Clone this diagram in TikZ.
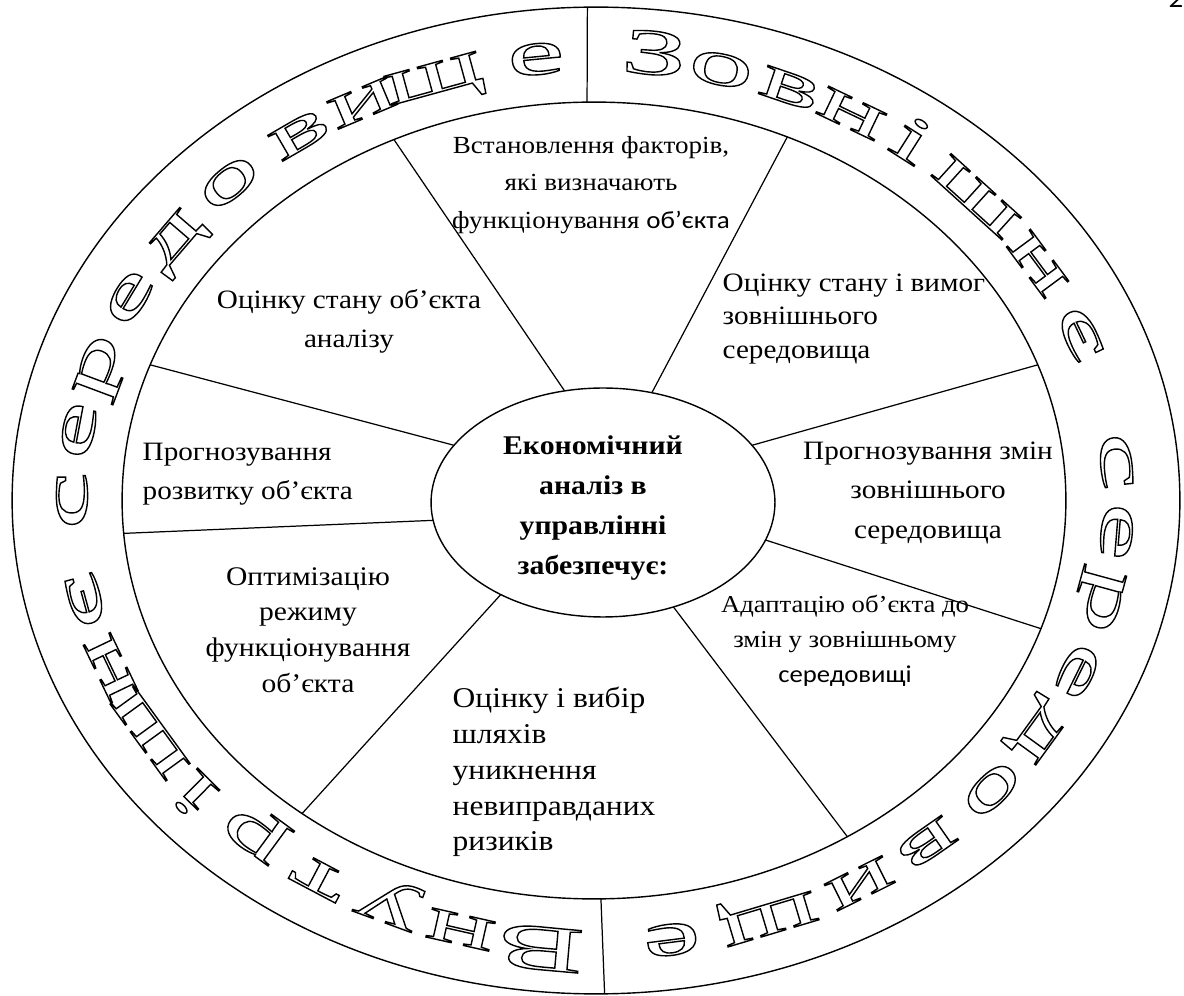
\documentclass[tikz,border=0pt]{standalone}
\usepackage{fontspec}
\setmainfont{Liberation Serif}[FakeStretch=1.1]
\newfontfamily\calibri{Carlito}[FakeStretch=1.1]
\newfontfamily\ringfont{Liberation Serif}[FakeStretch=2.0]
\usetikzlibrary{shapes.geometric}
% outlined (stroked, unfilled) glyphs via PDF text rendering mode 1
\newcommand\hollow[1]{\special{pdf:literal direct 1 Tr 0.8 w}#1\special{pdf:literal direct 0 Tr}}
\begin{document}
\begin{tikzpicture}[x=0.02cm, y=-0.02cm, line width=0.8pt,
  ring/.style={draw, ellipse, inner sep=0pt, outer sep=0pt},
  spoke/.style={line width=0.7pt},
  txt/.style={inner sep=0pt},
  ringletter/.style={font=\ringfont\fontsize{37}{40}\selectfont, inner sep=0pt, anchor=base}]
\path[fill=white, use as bounding box] (0,0) rectangle (1184,996);

% rings
\node[ring, minimum width=23.36cm, minimum height=19.74cm] (outer) at (596,500.5) {};
\node[ring, minimum width=18.88cm, minimum height=15.94cm] (inner) at (594,500.5) {};
\node[ring, minimum width=6.88cm, minimum height=4.58cm] (core) at (603,502.5) {};
\node[txt, align=center, font=\bfseries\fontsize{15.4}{22.7}\selectfont] (coretext) at (593,508)
      {Економічний\\аналіз в\\управлінні\\забезпечує:};

% ring dividers
\draw[spoke] (outer.91.4) -- (inner.91.44);
\draw[spoke] (inner.271.87) -- (outer.271.28);

% spokes
\draw[spoke] (core.109.3) -- (inner.119.5);
\draw[spoke] (core.66.9) -- (inner.62.6);
\draw[spoke] (core.21.5) -- (inner.17);
\draw[spoke] (core.347.2) -- (inner.344.6);
\draw[spoke] (core.304.7) -- (inner.307);
\draw[spoke] (core.222.5) -- (inner.227);
\draw[spoke] (core.186.1) -- (inner.184.9);
\draw[spoke] (core.159.2) -- (inner.163.6);

% ring lettering
\foreach \ch/\t [count=\i] in {З/83.5, о/76, в/68, н/60.5, і/53, ш/43, н/32, є/22,
    с/5, е/-4, р/-13, е/-22.5, д/-31.5, о/-40.5, в/-50.5, и/-59.5, щ/-70.5, е/-81.5} {
  \pgfmathsetmacro\px{595+508*cos(\t)}
  \pgfmathsetmacro\py{500.5-429*sin(\t)}
  \pgfmathsetmacro\rot{atan2(508*sin(\t),429*cos(\t))-90}
  \node[ringletter, rotate=\rot] (zr\i) at (\px,\py) {\hollow{\ch}};
}
\foreach \ch/\t [count=\i] in {В/-96, н/-105, у/-113.5, т/-122, р/-131, і/-139.5, ш/-148.5, н/-158, є/-167,
    с/-180, е/-189, р/-197.5, е/-207, д/-216, о/-225.5, в/-235.5, и/-243.5, щ/-252, е/-263.5} {
  \pgfmathsetmacro\px{595+508*cos(\t)}
  \pgfmathsetmacro\py{500.5-429*sin(\t)}
  \pgfmathsetmacro\rot{atan2(508*sin(\t),429*cos(\t))-90}
  \node[ringletter, rotate=\rot] (zl\i) at (\px,\py) {\hollow{\ch}};
}

% sector texts
\node[txt, align=center, font=\fontsize{14}{21.5}\selectfont] (t1) at (591,185)
  {Встановлення факторів,\\які визначають\\функціонування {\calibri об’єкта}};
\node[txt, align=center, font=\fontsize{15.1}{22.1}\selectfont] (t2) at (349,321)
  {Оцінку стану об’єкта\\аналізу};
\node[txt, align=left, anchor=west, font=\fontsize{15.1}{19.3}\selectfont] (t3) at (722,319)
  {Оцінку стану і вимог\\зовнішнього\\середовища};
\node[txt, align=center, font=\fontsize{15.1}{22.7}\selectfont] (t4) at (928,493)
  {Прогнозування змін\\зовнішнього\\середовища};
\node[txt, align=center, font=\fontsize{13.8}{19.8}\selectfont] (t5) at (845,641)
  {Адаптацію об’єкта до\\змін у зовнішньому\\{\calibri середовищі}};
\node[txt, align=left, anchor=west, font=\fontsize{16.3}{20.4}\selectfont] (t6) at (452,772)
  {Оцінку і вибір\\шляхів\\уникнення\\невиправданих\\ризиків};
\node[txt, align=center, font=\fontsize{15.3}{20.4}\selectfont] (t7) at (308,630)
  {Оптимізацію\\режиму\\функціонування\\об’єкта};
\node[txt, align=left, anchor=west, font=\fontsize{15.1}{22.1}\selectfont] (t8) at (142,474)
  {Прогнозування\\розвитку об’єкта};

% page number (cut off)
\node[font=\calibri\fontsize{15}{15}\selectfont, anchor=base, inner sep=0pt] (pg) at (1176,8) {2};
\end{tikzpicture}
\end{document}
